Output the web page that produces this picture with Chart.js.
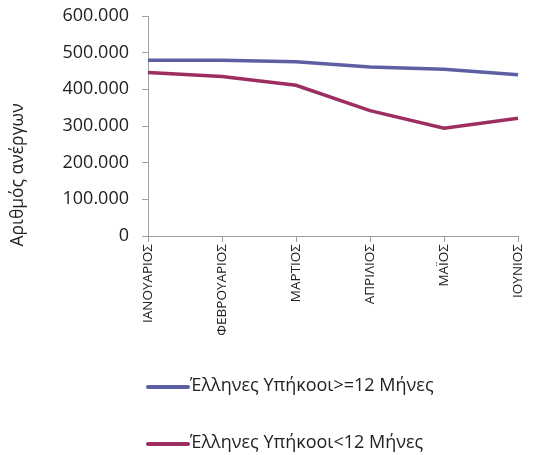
<!DOCTYPE html>
<html>
<head>
<meta charset="utf-8">
<script src="https://cdn.jsdelivr.net/npm/chart.js@4"></script>
<style>
  body { margin: 0; background: #fff; }
  #wrap { position: relative; width: 551px; height: 455px; }
  #legend { position: absolute; left: 146px; top: 0; font-family: "Open Sans", "Liberation Sans", sans-serif; font-size: 18px; color: #222; }
  .item { position: absolute; left: 0; white-space: nowrap; }
  .item span.sw { position: absolute; left: 0; top: 0; width: 44px; height: 4px; border-radius: 2px; }
  .item span.tx { position: absolute; left: 44px; top: -13px; }
</style>
</head>
<body>
<div id="wrap">
  <canvas id="grafico" width="551" height="455"></canvas>
  <div id="legend"></div>
</div>
<script>
// Datos del gráfico
const meses = ['ΙΑΝΟΥΑΡΙΟΣ', 'ΦΕΒΡΟΥΑΡΙΟΣ', 'ΜΑΡΤΙΟΣ', 'ΑΠΡΙΛΙΟΣ', 'ΜΑΪΟΣ', 'ΙΟΥΝΙΟΣ'];
const nombreSerie1 = 'Έλληνες Υπήκοοι>=12 Μήνες';
const nombreSerie2 = 'Έλληνες Υπήκοοι<12 Μήνες';
const serie1 = [479000, 479000, 475000, 461000, 455000, 440000];
const serie2 = [446000, 435000, 411000, 342000, 294000, 321000];
const tituloY = 'Αριθμός ανέργων';

const colores = ['#5d5fa3', '#9c2e62'];
const fuente = '"Open Sans", "Liberation Sans", sans-serif';

// Título del eje Y, dibujado un poco más abajo que el centro (como en el original)
const tituloEjeY = {
    id: 'tituloEjeY',
    afterDraw(chart) {
        const c = chart.ctx;
        c.save();
        c.translate(18, 175);
        c.rotate(-Math.PI / 2);
        c.font = '17.5px ' + fuente;
        c.fillStyle = '#222';
        c.textAlign = 'center';
        c.textBaseline = 'middle';
        c.fillText(tituloY, 0, 0);
        c.restore();
    }
};

const ctx = document.getElementById('grafico').getContext('2d');
const chart = new Chart(ctx, {
    type: 'line',
    data: {
        labels: meses,
        datasets: [
            { label: nombreSerie1, data: serie1, borderColor: colores[0], backgroundColor: colores[0], borderWidth: 3.5, pointRadius: 0, tension: 0 },
            { label: nombreSerie2, data: serie2, borderColor: colores[1], backgroundColor: colores[1], borderWidth: 3.5, pointRadius: 0, tension: 0 }
        ]
    },
    options: {
        responsive: false,
        animation: false,
        layout: { padding: { left: 0, right: 33, top: 16, bottom: 119 } },
        plugins: { legend: { display: false }, tooltip: { enabled: false } },
        scales: {
            x: {
                offset: false,
                grid: { drawOnChartArea: false, color: '#a0a0a0', tickLength: 6 },
                border: { color: '#a0a0a0' },
                ticks: { maxRotation: 90, minRotation: 90, color: '#222', font: { family: fuente, size: 13.5 }, padding: 2, autoSkip: false },
                afterFit: function (scale) { scale.height = 100; scale.paddingLeft = 0; scale.paddingRight = 0; }
            },
            y: {
                min: 0,
                max: 600000,
                grid: { drawOnChartArea: false, color: '#a0a0a0', tickLength: 6 },
                border: { color: '#a0a0a0' },
                ticks: {
                    stepSize: 100000,
                    color: '#222',
                    padding: 13,
                    font: { family: fuente, size: 18 },
                    callback: v => v.toLocaleString('de-DE')
                },
                afterFit: function (scale) { scale.width = 148; scale.paddingTop = 0; scale.paddingBottom = 0; }
            }
        }
    },
    plugins: [tituloEjeY]
});

// Leyenda en vertical, como en el original
const legend = document.getElementById('legend');
const filas = [387, 444];
chart.data.datasets.forEach((ds, i) => {
    const item = document.createElement('div');
    item.className = 'item';
    item.style.top = (filas[i] - 2) + 'px';
    item.innerHTML = '<span class="sw" style="background:' + ds.borderColor + '"></span><span class="tx"></span>';
    item.querySelector('.tx').textContent = ds.label;
    legend.appendChild(item);
});
</script>
</body>
</html>
